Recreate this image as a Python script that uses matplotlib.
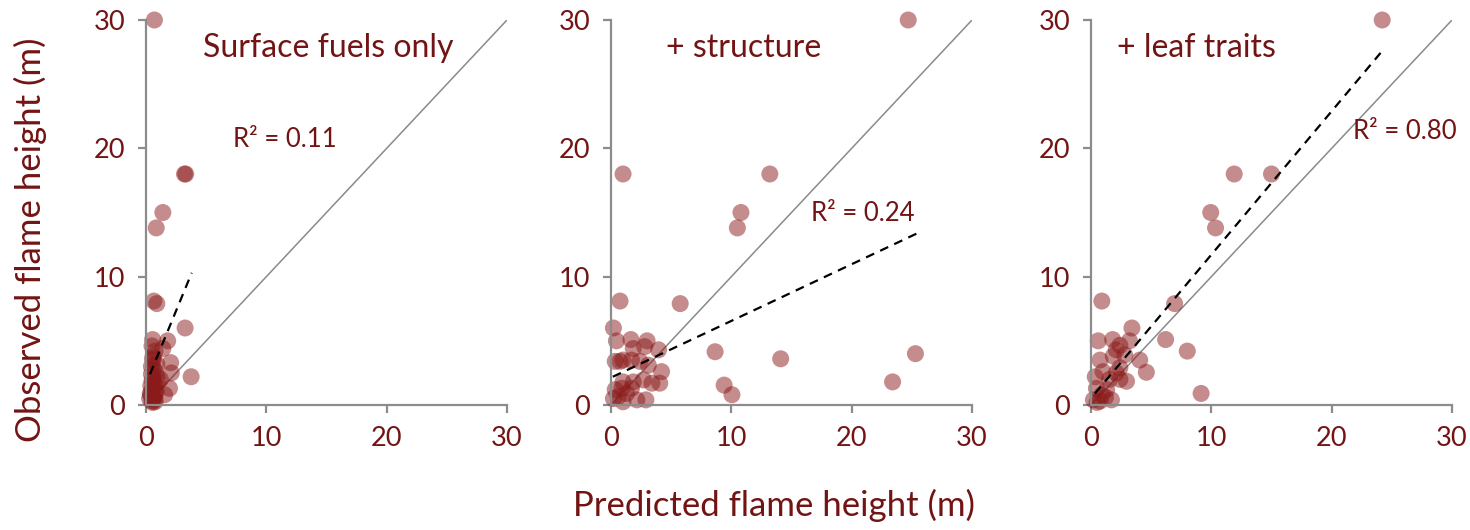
import matplotlib
matplotlib.use("Agg")
import matplotlib.pyplot as plt

# ---------------- data ----------------
panel_titles = ["Surface fuels only", "+ structure", "+ leaf traits"]
r2_labels = ["R² = 0.11", "R² = 0.24", "R² = 0.80"]
ticks = [0, 10, 20, 30]

pred1 = [0.7, 3.2, 3.3, 1.4, 0.85, 0.65, 0.9, 3.25, 3.75, 1.8, 0.55, 1.4, 2.05, 2.1,
         1.95, 1.55, 0.55, 0.6, 0.75, 0.5, 0.45, 0.8, 0.9, 0.6, 0.7, 0.4, 0.5, 0.85,
         1.0, 0.35, 0.6, 0.75, 0.5, 0.65, 0.45, 0.9, 1.2, 0.3, 0.55, 0.7, 0.6, 0.8,
         0.5, 0.65, 0.4, 0.75]
obs1 = [30, 18, 18, 15, 13.8, 8.1, 7.9, 6.0, 2.2, 5.0, 5.1, 4.4, 3.3, 2.5,
        1.3, 0.8, 3.6, 3.8, 4.2, 4.6, 3.0, 2.6, 2.2, 2.0, 1.7, 1.5, 1.2, 1.0,
        1.8, 0.9, 0.6, 0.4, 0.3, 1.4, 2.4, 3.2, 2.0, 0.5, 0.2, 0.7, 3.5, 1.1,
        1.9, 2.8, 0.8, 0.25]

pred2 = [24.7, 1.0, 13.2, 10.8, 10.5, 0.75, 5.75, 0.2, 0.45, 1.65, 3.0, 3.95, 1.85, 2.8,
         8.65, 14.1, 25.3, 23.4, 9.4, 10.05, 4.2, 4.05, 3.4, 2.7, 2.15, 2.9, 1.0, 0.35,
         0.2, 0.75, 0.35, 1.0, 1.7, 2.4, 3.1, 1.0, 1.85, 0.9, 1.7, 0.6, 1.3]
obs2 = [30, 18, 18, 15, 13.8, 8.1, 7.9, 6.0, 5.0, 5.1, 5.0, 4.3, 4.4, 4.55,
        4.15, 3.6, 4.0, 1.8, 1.55, 0.8, 2.6, 1.7, 1.7, 1.95, 0.4, 0.4, 0.25, 1.2,
        0.5, 3.4, 3.4, 3.5, 3.5, 3.4, 3.1, 1.8, 1.8, 1.3, 1.3, 0.65, 0.9]

pred3 = [24.2, 11.9, 15.0, 9.95, 10.35, 0.9, 6.95, 3.4, 0.6, 1.8, 3.2, 6.2, 8.0, 2.4,
         2.1, 1.85, 2.8, 0.75, 4.05, 4.6, 9.15, 0.35, 1.0, 1.55, 2.4, 2.95, 2.1, 0.45,
         1.3, 1.7, 0.2, 0.75, 0.9, 2.4, 0.5, 1.2]
obs3 = [30, 18, 18, 15, 13.8, 8.1, 7.9, 6.0, 5.0, 5.1, 5.0, 5.1, 4.2, 4.65,
        4.3, 3.8, 3.9, 3.5, 3.5, 2.55, 0.9, 2.2, 2.6, 2.0, 2.0, 1.85, 2.5, 1.3,
        1.2, 0.4, 0.4, 0.3, 0.8, 2.9, 0.2, 0.6]

preds = [pred1, pred2, pred3]
obss = [obs1, obs2, obs3]

# trend lines (dashed), endpoints
trend_x = [[0.33, 3.8], [0.15, 25.5], [0.33, 24.3]]
trend_y = [[2.4, 10.3], [2.2, 13.4], [0.9, 27.7]]
one_to_one = [0, 30]

title_pos = [(4.7, 27.8), (4.6, 27.8), (2.15, 27.8)]
r2_pos = [(7.2, 20.7), (16.6, 14.9), (21.8, 21.3)]

# ---------------- style ----------------
TXT = "#731414"
PT = "#8b1a1a"
SPINE = "#8c8c8c"
FONT = ["Lato", "DejaVu Sans"]
plt.rcParams["font.family"] = FONT

fig = plt.figure(figsize=(14.7, 5.3), dpi=100)
lefts = [146 / 1470, 611 / 1470, 1091 / 1470]
W = 361 / 1470
B = (530 - 405) / 530
H = 385 / 530

for i in range(3):
    ax = fig.add_axes([lefts[i], B, W, H])
    ax.plot(one_to_one, one_to_one, color="#8a8a8a", lw=1.1, zorder=1)
    ax.scatter(preds[i], obss[i], s=150, color=PT, alpha=0.5, edgecolors="none",
               zorder=2, clip_on=False)
    ax.plot(trend_x[i], trend_y[i], color="black", lw=1.6, ls=(0, (4, 3)), zorder=3)
    ax.set_xlim(0, 30)
    ax.set_ylim(0, 30)
    ax.set_xticks(ticks)
    ax.set_yticks(ticks)
    for s in ["top", "right"]:
        ax.spines[s].set_visible(False)
    for s in ["left", "bottom"]:
        ax.spines[s].set_color(SPINE)
        ax.spines[s].set_linewidth(1.6)
    ax.tick_params(direction="out", length=6, width=1.6, color=SPINE,
                   labelcolor=TXT, labelsize=19.5, pad=9)
    ax.text(title_pos[i][0], title_pos[i][1], panel_titles[i], color=TXT,
            fontsize=23, ha="left", va="center")
    ax.text(r2_pos[i][0], r2_pos[i][1], r2_labels[i], color=TXT,
            fontsize=18.5, ha="left", va="center")
    ax.set_facecolor("none")

fig.text(30 / 1470, 1 - 240 / 530, "Observed flame height (m)", rotation=90,
         color=TXT, fontsize=25, ha="center", va="center")
fig.text(774 / 1470, 1 - 505 / 530, "Predicted flame height (m)",
         color=TXT, fontsize=25, ha="center", va="center")

fig.savefig("out.png", dpi=100, facecolor="white")
